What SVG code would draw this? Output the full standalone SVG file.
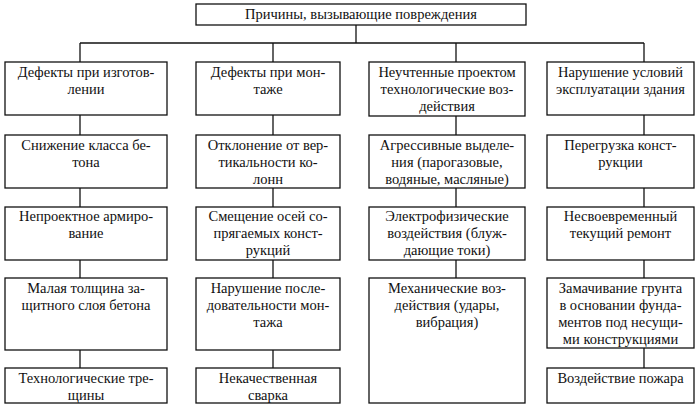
<svg xmlns="http://www.w3.org/2000/svg" width="700" height="408" viewBox="0 0 700 408">
<style>
rect.b{fill:#fff;stroke:#111;stroke-width:1.3}
.c line{stroke:#111;stroke-width:1.3}
text{font-family:"Liberation Serif","Times New Roman",serif;font-size:14.5px;fill:#111;text-anchor:middle}
</style>
<rect width="700" height="408" fill="#fff"/>
<g class="c" id="connectors">
<line x1="356" y1="25" x2="356" y2="43"/>
<line x1="80" y1="43" x2="644" y2="43"/>
<line x1="80" y1="43" x2="80" y2="62"/>
<line x1="273" y1="43" x2="273" y2="62"/>
<line x1="456" y1="43" x2="456" y2="62"/>
<line x1="644" y1="43" x2="644" y2="62"/>
<line x1="80" y1="115" x2="80" y2="135"/>
<line x1="80" y1="188" x2="80" y2="207"/>
<line x1="80" y1="260" x2="80" y2="278"/>
<line x1="80" y1="350" x2="80" y2="368"/>
<line x1="273" y1="115" x2="273" y2="135"/>
<line x1="273" y1="188" x2="273" y2="207"/>
<line x1="273" y1="260" x2="273" y2="278"/>
<line x1="273" y1="350" x2="273" y2="368"/>
<line x1="456" y1="116" x2="456" y2="135"/>
<line x1="456" y1="188" x2="456" y2="207"/>
<line x1="456" y1="260" x2="456" y2="278"/>
<line x1="644" y1="115" x2="644" y2="135"/>
<line x1="644" y1="188" x2="644" y2="207"/>
<line x1="644" y1="260" x2="644" y2="278"/>
<line x1="644" y1="348" x2="644" y2="368"/>
</g>
<g id="root"><rect class="b" x="196" y="4" width="330" height="21"/><text x="361" y="19">Причины, вызывающие повреждения</text></g>

<g id="c1r1"><rect class="b" x="5" y="62" width="162" height="53"/><text x="86" y="77">Дефекты при изготов-</text><text x="86" y="94">лении</text></g>
<g id="c1r2"><rect class="b" x="5" y="135" width="162" height="53"/><text x="86" y="150">Снижение класса бе-</text><text x="86" y="167">тона</text></g>
<g id="c1r3"><rect class="b" x="5" y="207" width="162" height="53"/><text x="86" y="221">Непроектное армиро-</text><text x="86" y="238">вание</text></g>
<g id="c1r4"><rect class="b" x="5" y="278" width="162" height="72"/><text x="86" y="293">Малая толщина за-</text><text x="86" y="310">щитного слоя бетона</text></g>
<g id="c1r5"><rect class="b" x="5" y="368" width="162" height="35"/><text x="86" y="383">Технологические тре-</text><text x="86" y="400">щины</text></g>

<g id="c2r1"><rect class="b" x="196" y="62" width="144" height="53"/><text x="268" y="77">Дефекты при мон-</text><text x="268" y="94">таже</text></g>
<g id="c2r2"><rect class="b" x="196" y="135" width="144" height="53"/><text x="268" y="150">Отклонение от вер-</text><text x="268" y="167">тикальности ко-</text><text x="268" y="184">лонн</text></g>
<g id="c2r3"><rect class="b" x="196" y="207" width="144" height="53"/><text x="268" y="221">Смещение осей со-</text><text x="268" y="238">прягаемых конст-</text><text x="268" y="255">рукций</text></g>
<g id="c2r4"><rect class="b" x="196" y="278" width="144" height="72"/><text x="268" y="293">Нарушение после-</text><text x="268" y="310">довательности мон-</text><text x="268" y="327">тажа</text></g>
<g id="c2r5"><rect class="b" x="196" y="368" width="144" height="35"/><text x="268" y="383">Некачественная</text><text x="268" y="400">сварка</text></g>

<g id="c3r1"><rect class="b" x="369" y="62" width="156" height="54"/><text x="447" y="77">Неучтенные проектом</text><text x="447" y="94">технологические воз-</text><text x="447" y="111">действия</text></g>
<g id="c3r2"><rect class="b" x="369" y="135" width="156" height="53"/><text x="447" y="150">Агрессивные выделе-</text><text x="447" y="167">ния (парогазовые,</text><text x="447" y="184">водяные, масляные)</text></g>
<g id="c3r3"><rect class="b" x="369" y="207" width="156" height="53"/><text x="447" y="221">Электрофизические</text><text x="447" y="238">воздействия (блуж-</text><text x="447" y="255">дающие токи)</text></g>
<g id="c3r4"><rect class="b" x="369" y="278" width="156" height="125"/><text x="447" y="293">Механические воз-</text><text x="447" y="310">действия (удары,</text><text x="447" y="327">вибрация)</text></g>

<g id="c4r1"><rect class="b" x="547" y="62" width="147" height="53"/><text x="620.5" y="77">Нарушение условий</text><text x="620.5" y="94">эксплуатации здания</text></g>
<g id="c4r2"><rect class="b" x="547" y="135" width="147" height="53"/><text x="620.5" y="150">Перегрузка конст-</text><text x="620.5" y="167">рукции</text></g>
<g id="c4r3"><rect class="b" x="547" y="207" width="147" height="53"/><text x="620.5" y="221">Несвоевременный</text><text x="620.5" y="238">текущий ремонт</text></g>
<g id="c4r4"><rect class="b" x="547" y="278" width="147" height="70"/><text x="620.5" y="293">Замачивание грунта</text><text x="620.5" y="310">в основании фунда-</text><text x="620.5" y="327">ментов под несущи-</text><text x="620.5" y="344">ми конструкциями</text></g>
<g id="c4r5"><rect class="b" x="547" y="368" width="147" height="35"/><text x="620.5" y="383">Воздействие пожара</text></g>
</svg>
